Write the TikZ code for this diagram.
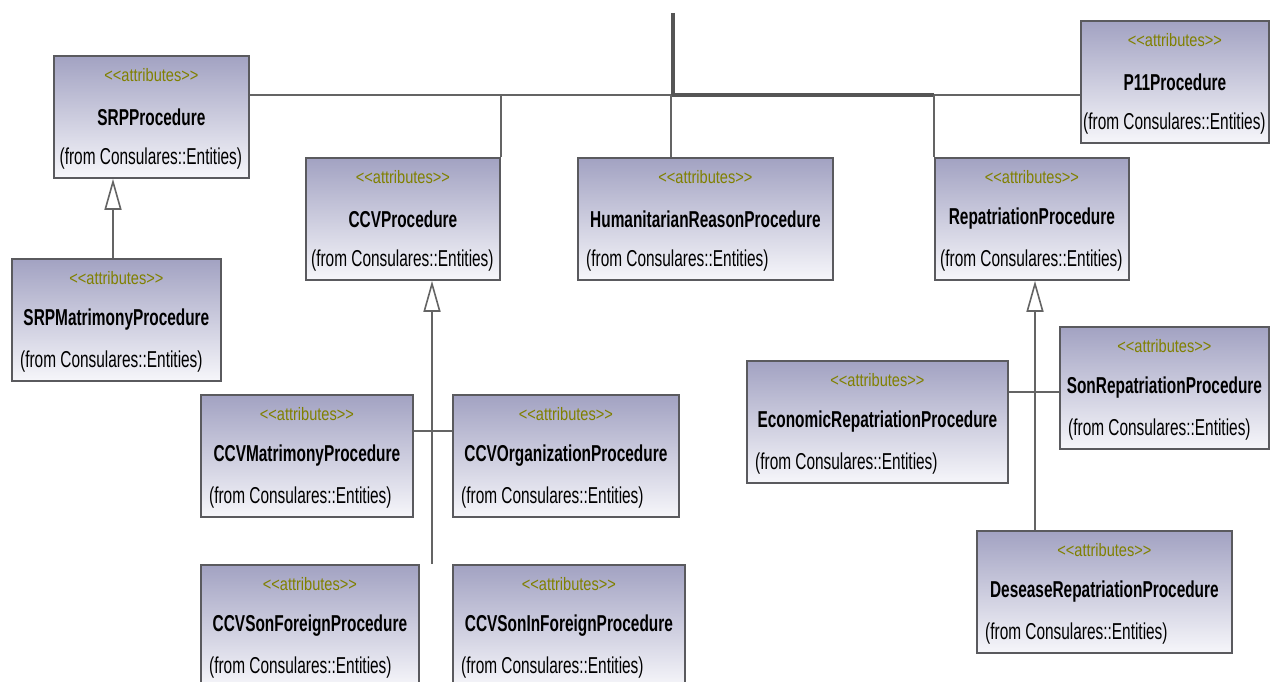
\documentclass[tikz,border=0pt]{standalone}
\usepackage{fontspec}
\usetikzlibrary{arrows.meta}
\newfontfamily\namefont{Liberation Sans}[FakeStretch=0.67]
\newfontfamily\stereofont{Liberation Sans}[FakeStretch=0.81]
\definecolor{boxtop}{RGB}{162,162,194}
\definecolor{boxbot}{RGB}{246,246,250}
\definecolor{boxedge}{RGB}{90,90,94}
\definecolor{wire}{RGB}{100,100,100}
\definecolor{stereo}{RGB}{128,128,0}
\tikzset{
  classbox/.style={draw=boxedge, line width=1.8pt, top color=boxtop, bottom color=boxbot,
    minimum height=122pt, inner sep=0pt, anchor=north west},
  stereotxt/.style={inner sep=0pt, text=stereo, font=\stereofont\fontsize{18}{19}\selectfont},
  nametxt/.style={inner sep=0pt, font=\namefont\bfseries\fontsize{23}{25}\selectfont},
  fromtxt/.style={inner sep=0pt, anchor=west, font=\namefont\fontsize{23}{25}\selectfont},
  wireline/.style={draw=wire, line width=1.6pt},
  busline/.style={draw=wire!85!black, line width=3.6pt},
  genline/.style={draw=wire, line width=1.6pt, -{Triangle[open, width=17pt, length=31pt]}}
}
% one UML class: name, left x, top y, width, class title
\newcommand\umlclass[5]{%
  \node[classbox, minimum width=#4pt] (#1) at (#2,#3) {};
  \node[stereotxt] (#1-st) at ([yshift=-20pt]#1.north) {<\kern0pt<attributes>\kern0pt>};
  \node[nametxt] (#1-nm) at ([yshift=-62pt]#1.north) {#5};
  \pgfmathsetmacro\frompad{min(9,(#4-182)/2)}%
  \node[fromtxt] (#1-fr) at ([xshift=\frompad pt,yshift=-104pt]#1.north west) {(from Consulares::Entities)};
}
\begin{document}
\begin{tikzpicture}[x=1pt, y=-1pt]
\useasboundingbox (0,0) rectangle (1270,682);
\clip (0,0) rectangle (1270,682);

% classes
\umlclass{SRP}{53}{55}{195}{SRPProcedure}
\umlclass{P11}{1080}{20}{188}{P11Procedure}
\umlclass{CCV}{305}{157}{194}{CCVProcedure}
\umlclass{Hum}{577}{157}{255}{HumanitarianReasonProcedure}
\umlclass{Rep}{934}{157}{194}{RepatriationProcedure}
\umlclass{SRPMat}{11}{258}{209}{SRPMatrimonyProcedure}
\umlclass{CCVMat}{200}{394}{212}{CCVMatrimonyProcedure}
\umlclass{CCVOrg}{452}{394}{226}{CCVOrganizationProcedure}
\umlclass{CCVSonF}{200}{564}{218}{CCVSonForeignProcedure}
\umlclass{CCVSonIn}{452}{564}{232}{CCVSonInForeignProcedure}
\umlclass{Eco}{746}{360}{261}{EconomicRepatriationProcedure}
\umlclass{SonRep}{1059}{326}{209}{SonRepatriationProcedure}
\umlclass{Des}{976}{530}{255}{DeseaseRepatriationProcedure}

% junction points of the connectors
\coordinate (feed) at (673,13);
\coordinate (bus) at (673,95);
\coordinate (busend) at (934,95);
\coordinate (humdrop) at (671,95);
\coordinate (srpj) at (113,0);
\coordinate (ccvj) at (432,431);
\coordinate (repj) at (1035,392);

% package bus
\draw[wireline] (SRP.east |- bus) -- (P11.west |- bus);
\draw[busline] (feed) -- (bus) -- (busend);
\draw[wireline] (CCV.north east) -- (CCV.north east |- bus);
\draw[wireline] (humdrop |- Hum.north) -- (humdrop);
\draw[wireline] (Rep.north west) -- (Rep.north west |- bus);

% generalisations
\draw[genline] (srpj |- SRPMat.north) -- (srpj |- SRP.south);
\draw[genline] (ccvj |- CCVSonF.north) -- (ccvj |- CCV.south);
\draw[wireline] (CCVMat.east |- ccvj) -- (CCVOrg.west |- ccvj);
\draw[genline] (repj |- Des.north) -- (repj |- Rep.south);
\draw[wireline] (Eco.east |- repj) -- (SonRep.west |- repj);
\end{tikzpicture}
\end{document}
